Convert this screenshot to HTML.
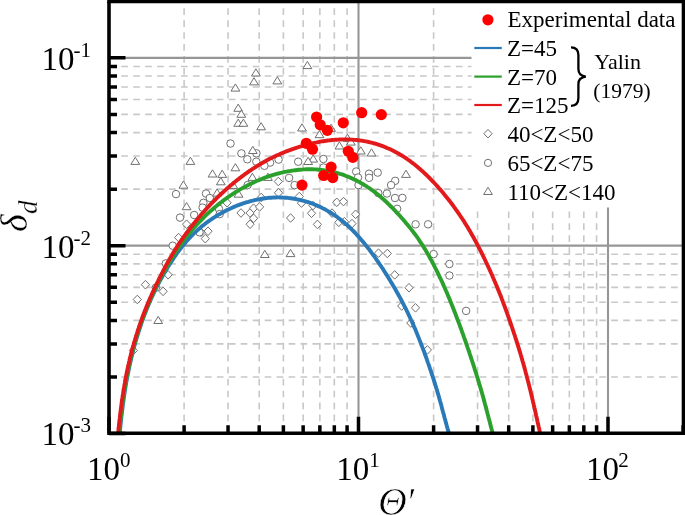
<!DOCTYPE html><html><head><meta charset="utf-8"><style>html,body{margin:0;padding:0;background:#fff;width:685px;height:515px;overflow:hidden}svg{display:block;will-change:transform}text{font-family:"Liberation Serif",serif}</style></head><body>
<svg width="685" height="515" viewBox="0 0 685 515">
<defs><clipPath id="pc"><rect x="109" y="1.6" width="574.2" height="431.6"/></clipPath></defs>
<path d="M184.11 433.2V1.5M228.04 433.2V1.5M259.21 433.2V1.5M283.39 433.2V1.5M303.15 433.2V1.5M319.85 433.2V1.5M334.32 433.2V1.5M347.08 433.2V1.5M433.61 433.2V1.5M477.54 433.2V1.5M508.71 433.2V1.5M532.89 433.2V1.5M552.65 433.2V1.5M569.35 433.2V1.5M583.82 433.2V1.5M596.58 433.2V1.5M109.3 376.96H683.5M109.3 343.88H683.5M109.3 320.42H683.5M109.3 302.21H683.5M109.3 287.34H683.5M109.3 274.77H683.5M109.3 263.87H683.5M109.3 254.26H683.5M109.3 189.13H683.5M109.3 156.05H683.5M109.3 132.59H683.5M109.3 114.38H683.5M109.3 99.51H683.5M109.3 86.94H683.5M109.3 76.04H683.5M109.3 66.43H683.5" stroke="#c8c8c8" stroke-width="1.6" stroke-dasharray="6.7 5.25" fill="none"/>
<path d="M358.50 433.2V1.5M608.00 433.2V1.5M109.3 245.67H683.5M109.3 57.84H683.5" stroke="#969696" stroke-width="2.1" fill="none"/>
<rect x="471.5" y="0" width="214" height="207.5" fill="#fff"/>
<g clip-path="url(#pc)"><path d="M227.1 198.5L231.2 202.8L227.1 207.1L223.0 202.8Z" fill="#fff" stroke="#707070" stroke-width="1"/><path d="M394.7 270.6L398.8 274.9L394.7 279.2L390.6 274.9Z" fill="#fff" stroke="#707070" stroke-width="1"/><path d="M409.0 283.4L413.1 287.7L409.0 292.0L404.9 287.7Z" fill="#fff" stroke="#707070" stroke-width="1"/><path d="M278.3 177.2L282.4 181.5L278.3 185.8L274.2 181.5Z" fill="#fff" stroke="#707070" stroke-width="1"/><path d="M278.5 188.5L282.6 192.8L278.5 197.1L274.4 192.8Z" fill="#fff" stroke="#707070" stroke-width="1"/><path d="M299.3 192.2L303.4 196.5L299.3 200.8L295.2 196.5Z" fill="#fff" stroke="#707070" stroke-width="1"/><path d="M301.5 198.8L305.6 203.1L301.5 207.4L297.4 203.1Z" fill="#fff" stroke="#707070" stroke-width="1"/><path d="M313.0 201.3L317.1 205.6L313.0 209.9L308.9 205.6Z" fill="#fff" stroke="#707070" stroke-width="1"/><path d="M311.5 209.0L315.6 213.3L311.5 217.6L307.4 213.3Z" fill="#fff" stroke="#707070" stroke-width="1"/><path d="M336.8 198.0L340.9 202.3L336.8 206.6L332.7 202.3Z" fill="#fff" stroke="#707070" stroke-width="1"/><path d="M343.5 197.3L347.6 201.6L343.5 205.9L339.4 201.6Z" fill="#fff" stroke="#707070" stroke-width="1"/><path d="M332.0 208.8L336.1 213.1L332.0 217.4L327.9 213.1Z" fill="#fff" stroke="#707070" stroke-width="1"/><path d="M355.6 210.0L359.7 214.3L355.6 218.6L351.5 214.3Z" fill="#fff" stroke="#707070" stroke-width="1"/><path d="M186.6 219.9L190.7 224.2L186.6 228.5L182.5 224.2Z" fill="#fff" stroke="#707070" stroke-width="1"/><path d="M178.6 233.3L182.7 237.6L178.6 241.9L174.5 237.6Z" fill="#fff" stroke="#707070" stroke-width="1"/><path d="M208.0 226.9L212.1 231.2L208.0 235.5L203.9 231.2Z" fill="#fff" stroke="#707070" stroke-width="1"/><path d="M201.0 228.0L205.1 232.3L201.0 236.6L196.9 232.3Z" fill="#fff" stroke="#707070" stroke-width="1"/><path d="M205.3 234.4L209.4 238.7L205.3 243.0L201.2 238.7Z" fill="#fff" stroke="#707070" stroke-width="1"/><path d="M241.0 208.7L245.1 213.0L241.0 217.3L236.9 213.0Z" fill="#fff" stroke="#707070" stroke-width="1"/><path d="M250.0 208.7L254.1 213.0L250.0 217.3L245.9 213.0Z" fill="#fff" stroke="#707070" stroke-width="1"/><path d="M253.6 203.9L257.7 208.2L253.6 212.5L249.5 208.2Z" fill="#fff" stroke="#707070" stroke-width="1"/><path d="M259.6 202.6L263.7 206.9L259.6 211.2L255.5 206.9Z" fill="#fff" stroke="#707070" stroke-width="1"/><path d="M253.6 214.0L257.7 218.3L253.6 222.6L249.5 218.3Z" fill="#fff" stroke="#707070" stroke-width="1"/><path d="M250.1 219.9L254.2 224.2L250.1 228.5L246.0 224.2Z" fill="#fff" stroke="#707070" stroke-width="1"/><path d="M261.2 193.2L265.3 197.5L261.2 201.8L257.1 197.5Z" fill="#fff" stroke="#707070" stroke-width="1"/><path d="M290.6 213.7L294.7 218.0L290.6 222.3L286.5 218.0Z" fill="#fff" stroke="#707070" stroke-width="1"/><path d="M317.4 220.1L321.5 224.4L317.4 228.7L313.3 224.4Z" fill="#fff" stroke="#707070" stroke-width="1"/><path d="M338.8 218.0L342.9 222.3L338.8 226.6L334.7 222.3Z" fill="#fff" stroke="#707070" stroke-width="1"/><path d="M344.4 217.4L348.5 221.7L344.4 226.0L340.3 221.7Z" fill="#fff" stroke="#707070" stroke-width="1"/><path d="M352.0 219.3L356.1 223.6L352.0 227.9L347.9 223.6Z" fill="#fff" stroke="#707070" stroke-width="1"/><path d="M378.5 248.8L382.6 253.1L378.5 257.4L374.4 253.1Z" fill="#fff" stroke="#707070" stroke-width="1"/><path d="M387.3 249.2L391.4 253.5L387.3 257.8L383.2 253.5Z" fill="#fff" stroke="#707070" stroke-width="1"/><path d="M401.7 301.7L405.8 306.0L401.7 310.3L397.6 306.0Z" fill="#fff" stroke="#707070" stroke-width="1"/><path d="M415.5 303.5L419.6 307.8L415.5 312.1L411.4 307.8Z" fill="#fff" stroke="#707070" stroke-width="1"/><path d="M410.8 318.7L414.9 323.0L410.8 327.3L406.7 323.0Z" fill="#fff" stroke="#707070" stroke-width="1"/><path d="M427.4 345.6L431.5 349.9L427.4 354.2L423.3 349.9Z" fill="#fff" stroke="#707070" stroke-width="1"/><path d="M168.1 270.5L172.2 274.8L168.1 279.1L164.0 274.8Z" fill="#fff" stroke="#707070" stroke-width="1"/><path d="M145.4 280.4L149.5 284.7L145.4 289.0L141.3 284.7Z" fill="#fff" stroke="#707070" stroke-width="1"/><path d="M163.1 287.1L167.2 291.4L163.1 295.7L159.0 291.4Z" fill="#fff" stroke="#707070" stroke-width="1"/><path d="M137.3 295.2L141.4 299.5L137.3 303.8L133.2 299.5Z" fill="#fff" stroke="#707070" stroke-width="1"/><path d="M133.4 346.1L137.5 350.4L133.4 354.7L129.3 350.4Z" fill="#fff" stroke="#707070" stroke-width="1"/><circle cx="176.0" cy="194.1" r="3.75" fill="#fff" stroke="#707070" stroke-width="1"/><circle cx="230.5" cy="143.5" r="3.75" fill="#fff" stroke="#707070" stroke-width="1"/><circle cx="241.4" cy="153.4" r="3.75" fill="#fff" stroke="#707070" stroke-width="1"/><circle cx="247.3" cy="159.3" r="3.75" fill="#fff" stroke="#707070" stroke-width="1"/><circle cx="256.4" cy="153.3" r="3.75" fill="#fff" stroke="#707070" stroke-width="1"/><circle cx="256.3" cy="161.7" r="3.75" fill="#fff" stroke="#707070" stroke-width="1"/><circle cx="278.6" cy="159.6" r="3.75" fill="#fff" stroke="#707070" stroke-width="1"/><circle cx="298.2" cy="161.7" r="3.75" fill="#fff" stroke="#707070" stroke-width="1"/><circle cx="323.4" cy="159.0" r="3.75" fill="#fff" stroke="#707070" stroke-width="1"/><circle cx="356.2" cy="171.5" r="3.75" fill="#fff" stroke="#707070" stroke-width="1"/><circle cx="369.0" cy="173.7" r="3.75" fill="#fff" stroke="#707070" stroke-width="1"/><circle cx="377.7" cy="172.6" r="3.75" fill="#fff" stroke="#707070" stroke-width="1"/><circle cx="358.0" cy="177.5" r="3.75" fill="#fff" stroke="#707070" stroke-width="1"/><circle cx="369.1" cy="177.8" r="3.75" fill="#fff" stroke="#707070" stroke-width="1"/><circle cx="206.0" cy="193.5" r="3.75" fill="#fff" stroke="#707070" stroke-width="1"/><circle cx="209.8" cy="198.0" r="3.75" fill="#fff" stroke="#707070" stroke-width="1"/><circle cx="203.4" cy="202.8" r="3.75" fill="#fff" stroke="#707070" stroke-width="1"/><circle cx="202.6" cy="207.6" r="3.75" fill="#fff" stroke="#707070" stroke-width="1"/><circle cx="218.9" cy="208.7" r="3.75" fill="#fff" stroke="#707070" stroke-width="1"/><circle cx="194.2" cy="215.0" r="3.75" fill="#fff" stroke="#707070" stroke-width="1"/><circle cx="270.1" cy="162.6" r="3.75" fill="#fff" stroke="#707070" stroke-width="1"/><circle cx="264.4" cy="165.8" r="3.75" fill="#fff" stroke="#707070" stroke-width="1"/><circle cx="247.6" cy="185.1" r="3.75" fill="#fff" stroke="#707070" stroke-width="1"/><circle cx="289.1" cy="177.9" r="3.75" fill="#fff" stroke="#707070" stroke-width="1"/><circle cx="294.6" cy="185.1" r="3.75" fill="#fff" stroke="#707070" stroke-width="1"/><circle cx="323.5" cy="167.5" r="3.75" fill="#fff" stroke="#707070" stroke-width="1"/><circle cx="358.5" cy="185.1" r="3.75" fill="#fff" stroke="#707070" stroke-width="1"/><circle cx="395.2" cy="180.8" r="3.75" fill="#fff" stroke="#707070" stroke-width="1"/><circle cx="391.1" cy="185.1" r="3.75" fill="#fff" stroke="#707070" stroke-width="1"/><circle cx="378.3" cy="193.1" r="3.75" fill="#fff" stroke="#707070" stroke-width="1"/><circle cx="386.9" cy="193.5" r="3.75" fill="#fff" stroke="#707070" stroke-width="1"/><circle cx="395.0" cy="198.0" r="3.75" fill="#fff" stroke="#707070" stroke-width="1"/><circle cx="402.4" cy="197.9" r="3.75" fill="#fff" stroke="#707070" stroke-width="1"/><circle cx="397.1" cy="208.8" r="3.75" fill="#fff" stroke="#707070" stroke-width="1"/><circle cx="415.6" cy="224.3" r="3.75" fill="#fff" stroke="#707070" stroke-width="1"/><circle cx="428.1" cy="224.3" r="3.75" fill="#fff" stroke="#707070" stroke-width="1"/><circle cx="433.6" cy="254.1" r="3.75" fill="#fff" stroke="#707070" stroke-width="1"/><circle cx="449.4" cy="264.0" r="3.75" fill="#fff" stroke="#707070" stroke-width="1"/><circle cx="449.4" cy="275.5" r="3.75" fill="#fff" stroke="#707070" stroke-width="1"/><circle cx="466.1" cy="310.9" r="3.75" fill="#fff" stroke="#707070" stroke-width="1"/><circle cx="180.0" cy="217.6" r="3.75" fill="#fff" stroke="#707070" stroke-width="1"/><circle cx="172.7" cy="245.7" r="3.75" fill="#fff" stroke="#707070" stroke-width="1"/><circle cx="165.8" cy="263.4" r="3.75" fill="#fff" stroke="#707070" stroke-width="1"/><circle cx="155.9" cy="287.6" r="3.75" fill="#fff" stroke="#707070" stroke-width="1"/><circle cx="219.7" cy="214.1" r="3.75" fill="#fff" stroke="#707070" stroke-width="1"/><circle cx="199.5" cy="232.3" r="3.75" fill="#fff" stroke="#707070" stroke-width="1"/><path d="M135.3 157.2L139.7 164.4L130.9 164.4Z" fill="#fff" stroke="#707070" stroke-width="1"/><path d="M190.4 157.2L194.8 164.4L186.0 164.4Z" fill="#fff" stroke="#707070" stroke-width="1"/><path d="M183.4 181.0L187.8 188.2L179.0 188.2Z" fill="#fff" stroke="#707070" stroke-width="1"/><path d="M186.6 202.5L191.0 209.7L182.2 209.7Z" fill="#fff" stroke="#707070" stroke-width="1"/><path d="M255.9 68.8L260.3 76.0L251.5 76.0Z" fill="#fff" stroke="#707070" stroke-width="1"/><path d="M254.0 77.7L258.4 84.9L249.6 84.9Z" fill="#fff" stroke="#707070" stroke-width="1"/><path d="M277.3 76.7L281.7 83.9L272.9 83.9Z" fill="#fff" stroke="#707070" stroke-width="1"/><path d="M235.4 83.9L239.8 91.1L231.0 91.1Z" fill="#fff" stroke="#707070" stroke-width="1"/><path d="M238.2 104.1L242.6 111.3L233.8 111.3Z" fill="#fff" stroke="#707070" stroke-width="1"/><path d="M241.3 110.1L245.7 117.3L236.9 117.3Z" fill="#fff" stroke="#707070" stroke-width="1"/><path d="M238.2 119.1L242.6 126.3L233.8 126.3Z" fill="#fff" stroke="#707070" stroke-width="1"/><path d="M243.4 119.1L247.8 126.3L239.0 126.3Z" fill="#fff" stroke="#707070" stroke-width="1"/><path d="M261.1 122.6L265.5 129.8L256.7 129.8Z" fill="#fff" stroke="#707070" stroke-width="1"/><path d="M307.4 61.4L311.8 68.6L303.0 68.6Z" fill="#fff" stroke="#707070" stroke-width="1"/><path d="M302.0 123.8L306.4 131.0L297.6 131.0Z" fill="#fff" stroke="#707070" stroke-width="1"/><path d="M319.5 130.5L323.9 137.7L315.1 137.7Z" fill="#fff" stroke="#707070" stroke-width="1"/><path d="M331.0 124.2L335.4 131.4L326.6 131.4Z" fill="#fff" stroke="#707070" stroke-width="1"/><path d="M347.5 134.2L351.9 141.4L343.1 141.4Z" fill="#fff" stroke="#707070" stroke-width="1"/><path d="M350.9 137.9L355.3 145.1L346.5 145.1Z" fill="#fff" stroke="#707070" stroke-width="1"/><path d="M339.4 141.8L343.8 149.0L335.0 149.0Z" fill="#fff" stroke="#707070" stroke-width="1"/><path d="M360.8 146.8L365.2 154.0L356.4 154.0Z" fill="#fff" stroke="#707070" stroke-width="1"/><path d="M371.5 148.8L375.9 156.0L367.1 156.0Z" fill="#fff" stroke="#707070" stroke-width="1"/><path d="M313.2 154.9L317.6 162.1L308.8 162.1Z" fill="#fff" stroke="#707070" stroke-width="1"/><path d="M308.1 157.3L312.5 164.5L303.7 164.5Z" fill="#fff" stroke="#707070" stroke-width="1"/><path d="M252.8 146.3L257.2 153.5L248.4 153.5Z" fill="#fff" stroke="#707070" stroke-width="1"/><path d="M235.4 163.6L239.8 170.8L231.0 170.8Z" fill="#fff" stroke="#707070" stroke-width="1"/><path d="M212.5 169.8L216.9 177.0L208.1 177.0Z" fill="#fff" stroke="#707070" stroke-width="1"/><path d="M222.2 170.2L226.6 177.4L217.8 177.4Z" fill="#fff" stroke="#707070" stroke-width="1"/><path d="M220.8 177.6L225.2 184.8L216.4 184.8Z" fill="#fff" stroke="#707070" stroke-width="1"/><path d="M217.1 188.9L221.5 196.1L212.7 196.1Z" fill="#fff" stroke="#707070" stroke-width="1"/><path d="M233.2 181.2L237.6 188.4L228.8 188.4Z" fill="#fff" stroke="#707070" stroke-width="1"/><path d="M238.5 190.0L242.9 197.2L234.1 197.2Z" fill="#fff" stroke="#707070" stroke-width="1"/><path d="M252.4 173.2L256.8 180.4L248.0 180.4Z" fill="#fff" stroke="#707070" stroke-width="1"/><path d="M267.9 173.2L272.3 180.4L263.5 180.4Z" fill="#fff" stroke="#707070" stroke-width="1"/><path d="M406.0 170.2L410.4 177.4L401.6 177.4Z" fill="#fff" stroke="#707070" stroke-width="1"/><path d="M158.2 316.3L162.6 323.5L153.8 323.5Z" fill="#fff" stroke="#707070" stroke-width="1"/><path d="M264.8 250.3L269.2 257.5L260.4 257.5Z" fill="#fff" stroke="#707070" stroke-width="1"/><path d="M290.5 249.4L294.9 256.6L286.1 256.6Z" fill="#fff" stroke="#707070" stroke-width="1"/></g>
<g clip-path="url(#pc)">
<path d="M118.7 446.0L118.8 444.5L118.9 443.0L119.0 441.5L119.2 440.0L119.3 438.5L119.4 437.0L119.5 435.5L119.7 434.0L119.8 432.5L120.0 431.0L120.1 429.5L120.2 428.0L120.4 426.5L120.5 425.0L120.7 423.5L120.8 422.0L121.0 420.5L121.2 419.0L121.3 417.4L121.5 415.9L121.7 414.3L121.9 412.8L122.1 411.2L122.3 409.7L122.5 408.1L122.7 406.6L122.8 405.1L123.0 403.5L123.3 402.0L123.5 400.4L123.7 398.9L123.9 397.4L124.1 395.8L124.4 394.3L124.6 392.8L124.8 391.2L125.1 389.7L125.3 388.2L125.6 386.6L125.8 385.1L126.1 383.6L126.3 382.1L126.6 380.6L126.9 379.0L127.2 377.5L127.5 376.0L127.8 374.5L128.1 373.0L128.4 371.4L128.7 369.9L129.0 368.4L129.3 366.9L129.6 365.4L130.0 363.9L130.3 362.4L130.7 360.9L131.0 359.4L131.3 357.9L131.7 356.4L132.1 354.9L132.4 353.4L132.8 351.9L133.2 350.5L133.6 349.0L134.0 347.5L134.4 346.0L134.8 344.5L135.2 343.1L135.6 341.6L136.1 340.1L136.5 338.6L136.9 337.2L137.4 335.7L137.8 334.3L138.3 332.8L138.7 331.4L139.2 329.9L139.7 328.4L140.2 327.0L140.6 325.6L141.1 324.1L141.6 322.7L142.1 321.2L142.7 319.8L143.2 318.4L143.7 316.9L144.2 315.5L144.8 314.1L145.3 312.7L145.9 311.2L146.4 309.8L147.0 308.4L147.6 307.0L148.2 305.6L148.8 304.2L149.4 302.8L150.0 301.4L150.6 300.0L151.2 298.6L151.8 297.2L152.5 295.9L153.1 294.5L153.8 293.1L154.4 291.7L155.1 290.4L155.8 289.0L156.4 287.6L157.1 286.3L157.8 284.9L158.5 283.6L159.2 282.2L159.9 280.9L160.7 279.6L161.4 278.2L162.2 276.9L162.9 275.6L163.7 274.2L164.4 272.9L165.2 271.6L166.0 270.3L166.8 268.9L167.6 267.6L168.4 266.3L169.2 265.0L170.0 263.7L170.8 262.4L171.7 261.1L172.5 259.9L173.4 258.6L174.2 257.3L175.1 256.0L176.0 254.8L176.9 253.5L177.8 252.2L178.7 251.0L179.6 249.8L180.6 248.5L181.5 247.3L182.5 246.1L183.5 244.9L184.5 243.7L185.5 242.5L186.5 241.3L187.5 240.2L188.5 239.1L189.5 238.0L190.6 236.9L191.6 235.8L192.7 234.7L193.7 233.7L194.8 232.6L195.9 231.6L197.0 230.6L198.2 229.5L199.3 228.6L200.4 227.6L201.6 226.6L202.8 225.6L204.0 224.7L205.2 223.8L206.4 222.8L207.6 221.9L208.8 221.1L210.1 220.2L211.3 219.3L212.6 218.5L213.8 217.6L215.1 216.8L216.4 216.0L217.7 215.2L219.0 214.4L220.4 213.7L221.7 212.9L223.0 212.2L224.4 211.5L225.7 210.8L227.1 210.1L228.5 209.4L229.8 208.8L231.2 208.2L232.6 207.5L234.0 206.9L235.4 206.3L236.8 205.7L238.3 205.2L239.7 204.6L241.1 204.1L242.6 203.6L244.0 203.1L245.5 202.7L246.9 202.2L248.4 201.8L249.9 201.3L251.4 200.9L252.9 200.6L254.4 200.2L255.9 199.9L257.4 199.6L258.9 199.2L260.4 199.0L262.0 198.7L263.5 198.5L265.1 198.3L266.6 198.1L268.1 197.9L269.6 197.8L271.1 197.7L272.6 197.6L274.1 197.5L275.6 197.5L277.1 197.4L278.7 197.4L280.2 197.5L281.8 197.5L283.3 197.6L284.9 197.7L286.4 197.8L287.9 197.9L289.4 198.1L290.9 198.3L292.4 198.5L294.0 198.7L295.5 199.0L297.1 199.3L298.5 199.6L300.0 199.9L301.5 200.3L303.0 200.7L304.5 201.1L306.0 201.5L307.4 202.0L308.9 202.4L310.3 202.9L311.8 203.4L313.3 204.0L314.6 204.6L316.1 205.1L317.5 205.7L318.9 206.4L320.3 207.0L321.7 207.7L323.0 208.4L324.4 209.1L325.8 209.8L327.1 210.6L328.5 211.4L329.8 212.2L331.1 213.0L332.4 213.8L333.7 214.6L335.0 215.5L336.3 216.4L337.5 217.3L338.7 218.2L340.0 219.2L341.2 220.1L342.4 221.1L343.6 222.1L344.8 223.1L345.9 224.1L347.1 225.1L348.2 226.1L349.4 227.2L350.5 228.3L351.6 229.3L352.7 230.4L353.8 231.5L354.9 232.6L355.9 233.8L357.0 235.0L358.1 236.1L359.1 237.2L360.1 238.4L361.1 239.6L362.1 240.7L363.2 242.0L364.2 243.2L365.1 244.4L366.1 245.6L367.0 246.8L368.0 248.0L369.0 249.2L369.9 250.5L370.9 251.8L371.8 253.1L372.7 254.3L373.6 255.5L374.5 256.7L375.4 258.0L376.3 259.3L377.2 260.6L378.1 261.9L379.0 263.2L379.9 264.6L380.8 265.8L381.6 267.1L382.5 268.3L383.3 269.6L384.1 270.9L385.0 272.3L385.9 273.6L386.7 275.0L387.6 276.3L388.4 277.7L389.3 279.1L390.1 280.4L390.8 281.7L391.6 283.0L392.4 284.3L393.2 285.7L394.0 287.0L394.8 288.4L395.6 289.8L396.4 291.2L397.2 292.6L398.0 294.0L398.8 295.5L399.6 296.9L400.3 298.2L401.0 299.6L401.8 300.9L402.5 302.3L403.2 303.7L403.9 305.1L404.6 306.5L405.4 307.9L406.1 309.3L406.8 310.8L407.5 312.2L408.2 313.7L408.9 315.2L409.6 316.7L410.3 318.2L411.0 319.8L411.7 321.1L412.3 322.5L412.9 323.9L413.5 325.3L414.1 326.8L414.8 328.2L415.4 329.6L416.0 331.1L416.6 332.6L417.2 334.1L417.8 335.6L418.4 337.1L419.0 338.6L419.6 340.1L420.2 341.6L420.8 343.2L421.4 344.8L422.0 346.4L422.6 347.9L423.2 349.6L423.8 351.0L424.3 352.4L424.8 353.8L425.3 355.3L425.9 356.7L426.4 358.2L426.9 359.7L427.4 361.1L427.9 362.6L428.5 364.1L429.0 365.6L429.5 367.2L430.0 368.7L430.6 370.2L431.1 371.8L431.6 373.3L432.1 374.9L432.6 376.5L433.2 378.1L433.7 379.7L434.2 381.3L434.7 382.9L435.2 384.6L435.7 386.2L436.2 387.9L436.8 389.5L437.2 391.0L437.6 392.4L438.0 393.9L438.5 395.3L438.9 396.8L439.3 398.3L439.7 399.8L440.1 401.3L440.6 402.8L441.0 404.3L441.4 405.8L441.8 407.4L442.2 408.9L442.6 410.4L443.0 412.0L443.5 413.6L443.9 415.1L444.3 416.7L444.7 418.3L445.2 419.9L445.6 421.5L446.0 423.1L446.5 424.7L446.9 426.3L447.4 428.0L447.8 429.6L448.3 431.2L448.8 432.9L449.2 434.6L449.7 436.2L450.1 437.9L450.6 439.6L451.1 441.3L451.6 443.0L452.0 444.7" fill="none" stroke="#2a7ab9" stroke-width="3.9" stroke-linejoin="round"/>
<path d="M118.0 445.9L118.1 444.4L118.2 442.9L118.4 441.3L118.5 439.8L118.6 438.3L118.8 436.7L118.9 435.2L119.0 433.7L119.2 432.1L119.3 430.6L119.5 429.1L119.6 427.6L119.8 426.0L120.0 424.5L120.1 423.0L120.3 421.4L120.5 419.9L120.6 418.4L120.8 416.9L121.0 415.3L121.2 413.8L121.3 412.3L121.5 410.8L121.7 409.2L121.9 407.7L122.1 406.2L122.3 404.7L122.5 403.1L122.7 401.6L122.9 400.1L123.1 398.6L123.3 397.1L123.6 395.6L123.8 394.0L124.0 392.5L124.3 391.0L124.5 389.5L124.8 388.0L125.0 386.5L125.3 385.0L125.5 383.5L125.8 381.9L126.1 380.4L126.3 378.9L126.6 377.4L126.9 375.9L127.2 374.4L127.5 372.9L127.8 371.4L128.1 369.9L128.4 368.4L128.8 366.9L129.1 365.4L129.4 363.9L129.7 362.5L130.1 361.0L130.4 359.5L130.8 358.0L131.2 356.5L131.5 355.0L131.9 353.5L132.3 352.1L132.7 350.6L133.1 349.1L133.4 347.6L133.8 346.1L134.2 344.7L134.7 343.2L135.1 341.7L135.5 340.3L135.9 338.8L136.4 337.3L136.8 335.9L137.3 334.4L137.8 332.9L138.2 331.5L138.7 330.0L139.2 328.6L139.6 327.1L140.1 325.7L140.6 324.2L141.1 322.8L141.6 321.3L142.2 319.9L142.7 318.5L143.2 317.0L143.7 315.6L144.3 314.2L144.8 312.7L145.4 311.3L145.9 309.9L146.5 308.4L147.1 307.0L147.7 305.6L148.2 304.2L148.8 302.8L149.4 301.4L150.1 299.9L150.7 298.5L151.3 297.1L151.9 295.7L152.6 294.3L153.2 292.9L153.9 291.5L154.5 290.1L155.2 288.7L155.8 287.3L156.5 285.9L157.2 284.6L157.9 283.2L158.6 281.8L159.3 280.4L160.0 279.0L160.7 277.6L161.5 276.3L162.2 274.9L162.9 273.5L163.7 272.1L164.4 270.8L165.2 269.5L165.9 268.1L166.6 266.8L167.4 265.5L168.1 264.2L168.9 262.9L169.6 261.6L170.4 260.3L171.2 259.0L172.0 257.7L172.8 256.4L173.6 255.1L174.4 253.8L175.2 252.6L176.1 251.3L176.9 250.0L177.7 248.7L178.6 247.5L179.5 246.2L180.4 245.0L181.2 243.7L182.2 242.5L183.1 241.2L184.0 240.0L184.9 238.8L185.9 237.5L186.8 236.3L187.8 235.1L188.8 233.9L189.8 232.7L190.8 231.5L191.8 230.3L192.8 229.1L193.8 228.0L194.9 226.8L195.9 225.6L196.9 224.5L197.9 223.4L199.0 222.3L200.0 221.2L201.1 220.2L202.1 219.1L203.2 218.0L204.3 216.9L205.3 215.9L206.4 214.8L207.5 213.8L208.7 212.8L209.8 211.7L210.9 210.7L212.1 209.7L213.2 208.7L214.3 207.7L215.5 206.7L216.7 205.8L217.9 204.8L219.1 203.8L220.3 202.9L221.5 202.0L222.7 201.0L223.9 200.1L225.2 199.2L226.4 198.3L227.7 197.4L228.9 196.5L230.2 195.7L231.5 194.8L232.8 194.0L234.0 193.1L235.3 192.3L236.7 191.5L238.0 190.7L239.3 189.9L240.6 189.1L241.9 188.4L243.3 187.6L244.7 186.9L246.0 186.2L247.4 185.4L248.8 184.7L250.1 184.1L251.5 183.4L252.9 182.7L254.3 182.1L255.7 181.4L257.1 180.8L258.6 180.2L260.0 179.6L261.4 179.1L262.8 178.5L264.3 177.9L265.7 177.4L267.2 176.9L268.6 176.4L270.1 175.9L271.6 175.4L273.1 175.0L274.5 174.5L276.0 174.1L277.5 173.7L279.0 173.3L280.5 172.9L282.0 172.6L283.5 172.2L285.0 171.9L286.5 171.6L288.0 171.3L289.6 171.1L291.1 170.8L292.6 170.6L294.2 170.3L295.7 170.2L297.2 170.0L298.8 169.8L300.4 169.7L301.9 169.6L303.5 169.4L305.0 169.4L306.5 169.3L308.0 169.3L309.6 169.3L311.1 169.3L312.6 169.3L314.1 169.4L315.6 169.4L317.1 169.5L318.7 169.7L320.2 169.8L321.8 170.0L323.3 170.2L324.8 170.4L326.4 170.6L327.9 170.9L329.4 171.2L330.9 171.4L332.3 171.8L333.8 172.1L335.3 172.5L336.8 172.9L338.3 173.3L339.9 173.8L341.3 174.2L342.7 174.7L344.2 175.2L345.6 175.8L347.1 176.3L348.5 176.9L349.9 177.5L351.3 178.1L352.7 178.7L354.1 179.4L355.5 180.1L356.9 180.8L358.3 181.5L359.6 182.2L360.9 183.0L362.2 183.7L363.6 184.5L364.9 185.3L366.3 186.2L367.5 187.0L368.8 187.9L370.1 188.7L371.3 189.6L372.6 190.5L373.9 191.5L375.1 192.4L376.3 193.3L377.5 194.3L378.7 195.3L379.9 196.3L381.1 197.3L382.2 198.3L383.4 199.3L384.5 200.3L385.6 201.3L386.8 202.4L387.9 203.5L389.1 204.6L390.1 205.7L391.2 206.7L392.3 207.8L393.4 208.9L394.5 210.1L395.6 211.2L396.6 212.4L397.7 213.6L398.8 214.7L399.8 215.8L400.8 217.0L401.9 218.2L402.9 219.3L403.9 220.5L405.0 221.8L405.9 222.9L406.9 224.1L407.9 225.2L408.9 226.4L409.9 227.6L410.9 228.9L411.8 230.1L412.8 231.4L413.8 232.7L414.8 234.0L415.7 235.2L416.6 236.4L417.5 237.7L418.4 238.9L419.2 240.2L420.1 241.6L421.0 242.9L421.9 244.2L422.8 245.6L423.6 247.0L424.5 248.4L425.3 249.7L426.1 251.0L426.8 252.3L427.6 253.7L428.4 255.0L429.2 256.4L429.9 257.8L430.7 259.2L431.5 260.6L432.2 262.0L433.0 263.5L433.8 264.9L434.5 266.4L435.2 267.8L435.9 269.1L436.6 270.5L437.3 271.9L438.0 273.3L438.6 274.7L439.3 276.1L440.0 277.6L440.7 279.0L441.4 280.5L442.1 281.9L442.7 283.4L443.4 284.9L444.1 286.5L444.8 288.0L445.4 289.4L446.0 290.8L446.6 292.1L447.2 293.6L447.8 295.0L448.4 296.4L449.0 297.8L449.6 299.3L450.2 300.8L450.8 302.2L451.4 303.7L452.0 305.2L452.6 306.7L453.2 308.2L453.8 309.8L454.4 311.3L455.0 312.9L455.6 314.4L456.2 316.0L456.8 317.6L457.4 319.2L458.0 320.6L458.5 322.0L459.0 323.4L459.6 324.9L460.1 326.3L460.6 327.8L461.2 329.3L461.7 330.7L462.2 332.2L462.8 333.7L463.3 335.2L463.8 336.7L464.4 338.3L464.9 339.8L465.5 341.3L466.0 342.9L466.5 344.4L467.1 346.0L467.6 347.6L468.2 349.2L468.7 350.8L469.3 352.4L469.8 354.1L470.4 355.7L470.9 357.3L471.4 359.0L471.9 360.4L472.4 361.8L472.9 363.3L473.3 364.7L473.8 366.2L474.3 367.7L474.7 369.1L475.2 370.6L475.7 372.1L476.2 373.6L476.6 375.1L477.1 376.6L477.6 378.1L478.0 379.7L478.5 381.2L479.0 382.8L479.4 384.3L479.9 385.9L480.4 387.5L480.8 389.1L481.3 390.7L481.8 392.3L482.2 393.9L482.7 395.5L483.1 397.1L483.6 398.8L484.0 400.4L484.5 402.1L484.9 403.8L485.4 405.4L485.8 407.1L486.3 408.8L486.7 410.5L487.2 412.2L487.6 413.9L488.1 415.7L488.5 417.4L488.9 418.9L489.3 420.3L489.7 421.8L490.1 423.3L490.4 424.8L490.8 426.2L491.2 427.7L491.6 429.2L492.0 430.7L492.4 432.2L492.8 433.8L493.2 435.3L493.6 436.8L494.0 438.4L494.4 439.9L494.8 441.4L495.2 443.0L495.6 444.6" fill="none" stroke="#2ca02c" stroke-width="3.9" stroke-linejoin="round"/>
<path d="M116.9 446.0L117.0 444.4L117.2 442.9L117.3 441.3L117.5 439.8L117.6 438.2L117.8 436.6L117.9 435.1L118.1 433.5L118.2 432.0L118.4 430.4L118.5 428.9L118.7 427.3L118.9 425.8L119.0 424.2L119.2 422.7L119.4 421.1L119.6 419.6L119.8 418.0L119.9 416.5L120.1 414.9L120.3 413.4L120.5 411.8L120.7 410.3L120.9 408.7L121.1 407.2L121.3 405.6L121.5 404.1L121.7 402.6L121.9 401.0L122.2 399.5L122.4 397.9L122.6 396.4L122.8 394.8L123.1 393.3L123.3 391.8L123.5 390.2L123.8 388.7L124.1 387.1L124.3 385.6L124.6 384.1L124.9 382.5L125.1 381.0L125.4 379.5L125.7 377.9L126.0 376.4L126.3 374.9L126.6 373.3L126.9 371.8L127.2 370.3L127.6 368.8L127.9 367.2L128.2 365.7L128.6 364.2L128.9 362.7L129.3 361.1L129.6 359.6L130.0 358.1L130.4 356.6L130.8 355.1L131.1 353.6L131.5 352.1L131.9 350.5L132.3 349.0L132.7 347.5L133.1 346.0L133.6 344.5L134.0 343.0L134.4 341.5L134.9 340.0L135.3 338.5L135.8 337.0L136.2 335.5L136.7 334.0L137.2 332.6L137.6 331.2L138.1 329.7L138.6 328.3L139.0 326.9L139.5 325.5L140.0 324.1L140.5 322.6L141.0 321.2L141.5 319.8L142.0 318.4L142.5 317.0L143.1 315.6L143.6 314.1L144.1 312.7L144.7 311.3L145.2 309.9L145.8 308.5L146.3 307.1L146.9 305.7L147.5 304.3L148.1 302.9L148.7 301.5L149.2 300.1L149.8 298.8L150.4 297.4L151.1 296.0L151.7 294.6L152.3 293.2L152.9 291.8L153.6 290.4L154.2 289.1L154.8 287.7L155.5 286.3L156.2 284.9L156.8 283.5L157.5 282.2L158.2 280.8L158.8 279.4L159.5 278.0L160.2 276.7L160.9 275.3L161.6 273.9L162.3 272.6L163.0 271.2L163.7 269.8L164.4 268.5L165.2 267.1L165.9 265.7L166.6 264.4L167.4 263.0L168.1 261.6L168.9 260.3L169.7 258.9L170.4 257.6L171.2 256.2L172.0 254.9L172.8 253.5L173.6 252.2L174.4 250.9L175.2 249.6L176.0 248.3L176.8 247.1L177.6 245.8L178.4 244.5L179.2 243.3L180.1 242.0L180.9 240.8L181.8 239.5L182.7 238.3L183.6 237.0L184.4 235.8L185.3 234.6L186.2 233.3L187.2 232.1L188.1 230.9L189.0 229.7L189.9 228.4L190.9 227.2L191.8 226.0L192.8 224.8L193.8 223.6L194.7 222.4L195.7 221.2L196.7 220.0L197.7 218.8L198.7 217.6L199.7 216.5L200.7 215.3L201.7 214.1L202.7 212.9L203.8 211.8L204.8 210.6L205.9 209.4L206.9 208.3L208.0 207.1L209.1 206.0L210.1 204.8L211.2 203.8L212.2 202.7L213.3 201.6L214.3 200.5L215.4 199.5L216.5 198.4L217.5 197.4L218.6 196.3L219.7 195.3L220.8 194.2L221.9 193.2L223.0 192.2L224.2 191.1L225.3 190.1L226.4 189.1L227.6 188.1L228.7 187.1L229.8 186.1L231.0 185.1L232.2 184.2L233.3 183.2L234.5 182.2L235.7 181.3L236.9 180.3L238.1 179.4L239.3 178.4L240.5 177.5L241.7 176.6L243.0 175.7L244.2 174.8L245.4 173.8L246.7 173.0L247.9 172.1L249.2 171.2L250.5 170.3L251.7 169.5L253.0 168.6L254.3 167.8L255.6 167.0L256.9 166.2L258.2 165.4L259.5 164.6L260.8 163.8L262.1 163.0L263.5 162.2L264.8 161.5L266.1 160.8L267.5 160.0L268.8 159.3L270.2 158.6L271.6 157.9L272.9 157.2L274.3 156.6L275.7 155.9L277.1 155.3L278.5 154.7L279.9 154.1L281.3 153.4L282.7 152.9L284.1 152.3L285.5 151.7L286.9 151.2L288.3 150.6L289.8 150.1L291.2 149.6L292.6 149.1L294.1 148.6L295.5 148.1L296.9 147.6L298.4 147.2L299.8 146.7L301.3 146.3L302.7 145.9L304.1 145.4L305.6 145.1L307.1 144.7L308.5 144.3L310.0 143.9L311.4 143.6L312.9 143.2L314.4 142.9L315.8 142.6L317.3 142.3L318.8 142.0L320.3 141.7L321.7 141.4L323.2 141.2L324.7 141.0L326.2 140.8L327.7 140.5L329.2 140.4L330.7 140.2L332.2 140.0L333.7 139.9L335.2 139.8L336.7 139.7L338.2 139.6L339.7 139.5L341.2 139.5L342.7 139.4L344.2 139.4L345.8 139.4L347.3 139.4L348.8 139.5L350.3 139.6L351.9 139.6L353.4 139.8L354.9 139.9L356.5 140.0L358.0 140.2L359.6 140.4L361.1 140.6L362.7 140.8L364.2 141.1L365.6 141.4L367.1 141.7L368.6 142.0L370.1 142.3L371.6 142.7L373.1 143.1L374.6 143.5L376.1 143.9L377.6 144.4L379.0 144.9L380.5 145.4L381.9 145.9L383.3 146.4L384.8 147.0L386.2 147.6L387.6 148.2L389.1 148.8L390.5 149.4L391.8 150.1L393.2 150.8L394.6 151.5L395.9 152.2L397.3 152.9L398.7 153.7L400.0 154.5L401.3 155.2L402.6 156.0L403.9 156.9L405.2 157.7L406.5 158.6L407.8 159.5L409.0 160.3L410.3 161.2L411.5 162.2L412.7 163.1L413.9 164.0L415.2 165.0L416.4 166.0L417.6 167.0L418.7 168.0L419.9 169.0L421.0 170.0L422.2 171.0L423.4 172.1L424.5 173.2L425.7 174.3L426.8 175.3L427.9 176.4L429.0 177.5L430.1 178.6L431.1 179.7L432.2 180.8L433.4 182.0L434.5 183.2L435.5 184.3L436.5 185.4L437.6 186.5L438.6 187.7L439.6 188.9L440.7 190.1L441.7 191.3L442.8 192.5L443.7 193.7L444.7 194.9L445.6 196.1L446.6 197.2L447.6 198.5L448.6 199.7L449.6 201.0L450.5 202.2L451.5 203.5L452.5 204.8L453.4 206.0L454.3 207.3L455.2 208.5L456.1 209.8L457.0 211.0L457.9 212.3L458.8 213.6L459.7 215.0L460.6 216.3L461.5 217.7L462.4 219.0L463.3 220.3L464.1 221.6L464.9 222.9L465.7 224.2L466.5 225.5L467.4 226.8L468.2 228.2L469.0 229.6L469.8 230.9L470.6 232.3L471.4 233.8L472.2 235.2L473.0 236.6L473.8 237.9L474.5 239.3L475.2 240.6L475.9 242.0L476.7 243.3L477.4 244.7L478.1 246.1L478.8 247.5L479.6 248.9L480.3 250.3L481.0 251.8L481.8 253.2L482.5 254.7L483.2 256.2L483.9 257.7L484.7 259.2L485.4 260.7L486.0 262.1L486.7 263.4L487.3 264.8L488.0 266.2L488.6 267.6L489.3 269.0L489.9 270.4L490.6 271.9L491.2 273.3L491.9 274.8L492.5 276.2L493.1 277.7L493.8 279.2L494.4 280.7L495.1 282.2L495.7 283.8L496.4 285.3L497.0 286.9L497.6 288.4L498.3 290.0L498.9 291.6L499.5 293.0L500.1 294.4L500.6 295.8L501.2 297.2L501.7 298.7L502.3 300.1L502.8 301.6L503.4 303.1L503.9 304.5L504.5 306.0L505.0 307.5L505.6 309.0L506.1 310.5L506.7 312.1L507.2 313.6L507.8 315.1L508.3 316.7L508.9 318.3L509.4 319.8L510.0 321.4L510.5 323.0L511.1 324.6L511.6 326.2L512.2 327.9L512.7 329.5L513.3 331.1L513.8 332.8L514.3 334.2L514.8 335.6L515.2 337.1L515.7 338.5L516.2 340.0L516.6 341.5L517.1 342.9L517.6 344.4L518.0 345.9L518.5 347.4L519.0 348.9L519.4 350.4L519.9 351.9L520.4 353.5L520.8 355.0L521.3 356.6L521.7 358.1L522.2 359.7L522.6 361.3L523.1 362.8L523.5 364.4L524.0 366.0L524.4 367.6L524.9 369.3L525.3 370.9L525.7 372.5L526.2 374.2L526.6 375.8L527.0 377.5L527.5 379.1L527.9 380.8L528.4 382.5L528.8 384.2L529.2 385.9L529.6 387.6L530.1 389.4L530.5 391.1L530.9 392.8L531.3 394.3L531.6 395.8L532.0 397.2L532.3 398.7L532.7 400.2L533.0 401.7L533.4 403.2L533.7 404.7L534.1 406.2L534.4 407.7L534.8 409.2L535.1 410.8L535.5 412.3L535.8 413.8L536.1 415.4L536.5 416.9L536.9 418.5L537.2 420.1L537.5 421.6L537.9 423.2L538.3 424.8L538.6 426.4L539.0 428.0L539.4 429.6L539.7 431.2L540.1 432.8L540.5 434.4L540.9 436.0L541.2 437.7L541.6 439.3L542.0 440.9L542.4 442.6L542.8 444.2L543.2 445.9" fill="none" stroke="#e31a1c" stroke-width="3.9" stroke-linejoin="round"/>
</g>
<g fill="#ff0000"><circle cx="316.6" cy="117.0" r="5.6"/><circle cx="320.2" cy="124.8" r="5.6"/><circle cx="327.3" cy="130.3" r="5.6"/><circle cx="343.3" cy="122.8" r="5.6"/><circle cx="361.7" cy="112.7" r="5.6"/><circle cx="381.3" cy="114.6" r="5.6"/><circle cx="306.3" cy="143.3" r="5.6"/><circle cx="312.5" cy="149.2" r="5.6"/><circle cx="348.3" cy="151.3" r="5.6"/><circle cx="352.8" cy="157.4" r="5.6"/><circle cx="331.1" cy="167.1" r="5.6"/><circle cx="302.0" cy="185.1" r="5.6"/><circle cx="323.7" cy="175.5" r="5.6"/><circle cx="332.7" cy="177.6" r="5.6"/></g>
<path d="M109.0 433.2H683.5" stroke="#000" stroke-width="3.6" fill="none"/>
<path d="M109.0 435.0V1.5" stroke="#000" stroke-width="3.6" fill="none"/>
<path d="M107.2 1.5H685.3" stroke="#000" stroke-width="3.6" fill="none"/>
<path d="M683.5 1.5V435.0" stroke="#000" stroke-width="3.6" fill="none"/>
<path d="M109.0 433.50H125.5M109.0 376.96H117.0M109.0 343.88H117.0M109.0 320.42H117.0M109.0 302.21H117.0M109.0 287.34H117.0M109.0 274.77H117.0M109.0 263.87H117.0M109.0 254.26H117.0M109.0 245.67H125.5M109.0 189.13H117.0M109.0 156.05H117.0M109.0 132.59H117.0M109.0 114.38H117.0M109.0 99.51H117.0M109.0 86.94H117.0M109.0 76.04H117.0M109.0 66.43H117.0M109.0 57.84H125.5M109.0 1.30H117.0M109.00 433.2V416.7M184.11 433.2V425.2M228.04 433.2V425.2M259.21 433.2V425.2M283.39 433.2V425.2M303.15 433.2V425.2M319.85 433.2V425.2M334.32 433.2V425.2M347.08 433.2V425.2M358.50 433.2V416.7M433.61 433.2V425.2M477.54 433.2V425.2M508.71 433.2V425.2M532.89 433.2V425.2M552.65 433.2V425.2M569.35 433.2V425.2M583.82 433.2V425.2M596.58 433.2V425.2M608.00 433.2V416.7M683.11 433.2V425.2" stroke="#000" stroke-width="3.5" fill="none"/>
<text x="41.5" y="70.2" font-size="33">10</text><text x="73.5" y="57" font-size="21">-1</text>
<text x="41.5" y="257.8" font-size="33">10</text><text x="73.5" y="244.5" font-size="21">-2</text>
<text x="41.5" y="445.4" font-size="33">10</text><text x="73.5" y="432" font-size="21">-3</text>
<text x="87.1" y="479.9" font-size="33">10</text><text x="120" y="467.2" font-size="21">0</text>
<text x="336.2" y="479.9" font-size="33">10</text><text x="369.2" y="467.2" font-size="21">1</text>
<text x="585.9" y="479.9" font-size="33">10</text><text x="618.3" y="467.2" font-size="21">2</text>
<text x="378" y="514.6" font-size="40" font-style="italic" stroke="#fff" stroke-width="0.7">&#920;<tspan dx="-1.5">&#8242;</tspan></text>
<g transform="translate(26.5 232) rotate(-90)" stroke="#fff" stroke-width="0.3"><text x="0" y="0" font-size="38" font-style="italic">&#948;</text><text x="18" y="10" font-size="27" font-style="italic">d</text></g>
<circle cx="487.9" cy="19.8" r="5.6" fill="#ff0000"/>
<text x="507.5" y="26.7" font-size="23">Experimental data</text>
<path d="M474.3 48H501.8" stroke="#2a7ab9" stroke-width="2.2"/>
<text x="507" y="56.4" font-size="23">Z=45</text>
<path d="M474.3 76.6H501.8" stroke="#2ca02c" stroke-width="2.2"/>
<text x="507" y="84.6" font-size="23">Z=70</text>
<path d="M474.3 105H501.8" stroke="#e31a1c" stroke-width="2.2"/>
<text x="507" y="112.7" font-size="23">Z=125</text>
<path d="M571 47.3 C576 47.3,578.4 49.5,578.4 55 L578.4 69 C578.4 73.5,580.5 76,585.8 76.6 C580.5 77.2,578.4 79.7,578.4 84 L578.4 98 C578.4 103.5,576 105.7,571 105.9" fill="none" stroke="#000" stroke-width="2.3"/>
<text x="594.3" y="69.0" font-size="22">Yalin</text>
<text x="593.3" y="97.7" font-size="21.5">(1979)</text>
<path d="M488.0 129.4L492.1 133.7L488.0 138.0L483.9 133.7Z" fill="#fff" stroke="#707070" stroke-width="1"/>
<circle cx="488" cy="162.9" r="3.6" fill="#fff" stroke="#707070" stroke-width="1"/>
<path d="M488.0 187.3L492.4 194.5L483.6 194.5Z" fill="#fff" stroke="#707070" stroke-width="1"/>
<text x="507.4" y="141.9" font-size="23">40&lt;Z&lt;50</text>
<text x="507.4" y="170.6" font-size="23">65&lt;Z&lt;75</text>
<text x="507.4" y="199.6" font-size="23">110&lt;Z&lt;140</text>
</svg></body></html>
